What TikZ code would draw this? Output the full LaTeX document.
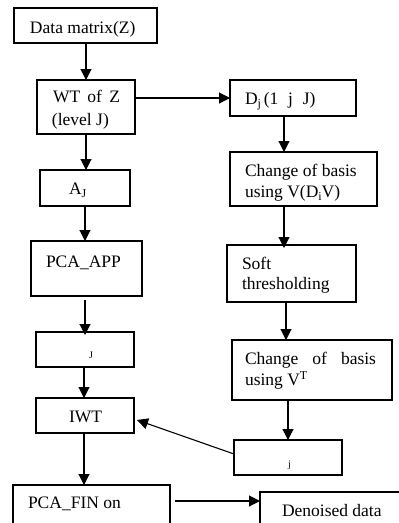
\documentclass[tikz,border=0pt]{standalone}
\usepackage{fontspec}
\setmainfont{Liberation Serif}
\usetikzlibrary{arrows.meta}
\newcommand{\lsub}[1]{\raisebox{-3pt}{\fontsize{12}{12}\selectfont #1}}
\newcommand{\lsup}[1]{\raisebox{6pt}{\fontsize{12}{12}\selectfont #1}}
\begin{document}
\begin{tikzpicture}[x=1pt,y=-1pt,
  box/.style={draw, line width=1.1pt, inner sep=0pt, outer sep=0pt},
  txt/.style={inner sep=0pt, outer sep=0pt, anchor=base west, font=\fontsize{17.5}{21}\selectfont},
  small/.style={inner sep=0pt, outer sep=0pt, anchor=base west, font=\fontsize{10}{12}\selectfont},
  arr/.style={line width=1.1pt, -{Triangle[length=11pt,width=11pt]}}]
\useasboundingbox (0,0) rectangle (399,523);
% left column boxes
\node[box, minimum width=143pt, minimum height=35pt] (data) at (85.5,25.5) {};
\node[box, minimum width=98pt, minimum height=54pt] (wt) at (86,107) {};
\node[box, minimum width=90pt, minimum height=36pt] (aj) at (85,188) {};
\node[box, minimum width=111pt, minimum height=55pt] (pca) at (86.5,268.5) {};
\node[box, minimum width=98pt, minimum height=35pt] (jb) at (85,349.5) {};
\node[box, minimum width=98pt, minimum height=35pt] (iwt) at (85,415.5) {};
\node[box, minimum width=157pt, minimum height=46pt] (fin) at (91.5,508) {};
\node[box, minimum width=146pt, minimum height=40pt] (den) at (333,512) {};
% right column boxes
\node[box, minimum width=126pt, minimum height=36pt] (dj) at (293,98) {};
\node[box, minimum width=147pt, minimum height=54pt] (cob1) at (303.5,179) {};
\node[box, minimum width=129pt, minimum height=57pt] (soft) at (291.5,273.5) {};
\node[box, minimum width=160pt, minimum height=60pt] (cob2) at (312,370) {};
\node[box, minimum width=108pt, minimum height=35pt] (jj) at (288,457.5) {};
% texts
\node[txt] (t1) at (30,33) {Data matrix(Z)};
\node[txt] (t2a) at (53,102) {WT\, of\, Z};
\node[txt] (t2b) at (52,125) {(level J)};
\node[txt] (t3) at (69,194) {A\lsub{J}};
\node[txt] (t4) at (46,267) {PCA\_APP};
\node[small] (t5) at (89,358) {J};
\node[txt] (t6) at (69,422) {IWT};
\node[txt] (t7) at (28,508) {PCA\_FIN on};
\node[txt] (t8) at (282,516) {Denoised data};
\node[txt] (t9) at (245,104) {D\lsub{j}\,(1\;\;j\;\;J)};
\node[txt] (t10a) at (245,176) {Change of basis};
\node[txt] (t10b) at (245,197) {using V(D\lsub{i}V)};
\node[txt] (t11a) at (242,269) {Soft};
\node[txt] (t11b) at (242,289) {thresholding};
\node[txt] (t12a) at (245,364) {\makebox[131pt][s]{Change of basis}};
\node[txt] (t12b) at (245,385) {using V\lsup{T}};
\node[small] (t13) at (288,467) {j};
% connectors
\draw[arr] (data.south -| 86,0) -- (wt.north -| 86,0);
\draw[arr] (wt.east |- 0,98) -- (dj.west);
\draw[arr] (wt.south -| 86,0) -- (aj.north -| 86,0);
\draw[arr] (aj.south -| 85,0) -- (pca.north -| 85,0);
\draw[arr] ([yshift=-4pt]pca.south -| 85,0) -- ([yshift=-3pt]jb.north -| 85,0);
\draw[arr] (jb.south -| 84,0) -- (iwt.north -| 84,0);
\draw[arr] (iwt.south -| 84,0) -- (fin.north -| 84,0);
\draw[arr] ([xshift=5pt]fin.east |- 0,501) -- (den.west |- 0,501);
\draw[arr] (dj.south -| 284,0) -- (cob1.north -| 284,0);
\draw[arr] (cob1.south -| 284,0) -- ([yshift=-3pt]soft.north -| 284,0);
\draw[arr] (soft.south -| 286,0) -- (cob2.north -| 286,0);
\draw[arr] (cob2.south -| 288,0) -- (jj.north -| 288,0);
\draw[arr] (jj.west |- 0,454) -- ([xshift=3pt]iwt.east |- 0,420);
\end{tikzpicture}
\end{document}
